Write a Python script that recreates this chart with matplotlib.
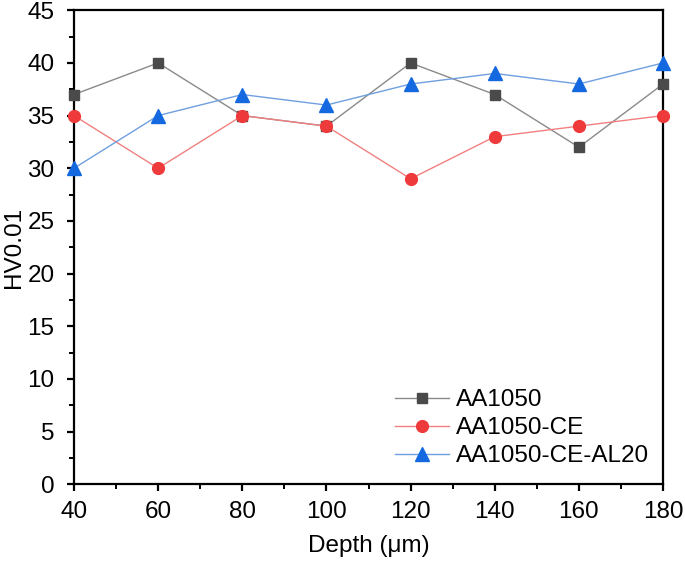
import numpy as np
import matplotlib
matplotlib.use("Agg")
import matplotlib.pyplot as plt
from matplotlib.ticker import MultipleLocator

plt.rcParams['font.family'] = ['Liberation Sans', 'DejaVu Sans']

# data
depth = [40, 60, 80, 100, 120, 140, 160, 180]
aa1050 = [37, 40, 35, 34, 40, 37, 32, 38]
aa1050_ce = [35, 30, 35, 34, 29, 33, 34, 35]
aa1050_ce_al20 = [30, 35, 37, 36, 38, 39, 38, 40]

fig = plt.figure(figsize=(6.85, 5.71), dpi=100)
ax = fig.add_axes([0.108, 0.152, 0.860, 0.830])

ax.plot(depth, aa1050, color='#8a8a8a', lw=1.0, marker='s', ms=7,
        mfc='#4a4a4a', mec='#4a4a4a', label='AA1050', clip_on=False, zorder=3)
ax.plot(depth, aa1050_ce, color='#f08080', lw=1.0, marker='o', ms=8.5,
        mfc='#ee3a3a', mec='#ee3a3a', label='AA1050-CE', clip_on=False, zorder=3)
ax.plot(depth, aa1050_ce_al20, color='#6f9fe0', lw=1.0, marker='^', ms=9.5,
        mfc='#1569e0', mec='#1569e0', label='AA1050-CE-AL20', clip_on=False, zorder=3)

ax.set_xlim(40, 180)
ax.set_ylim(0, 45)
ax.xaxis.set_major_locator(MultipleLocator(20))
ax.xaxis.set_minor_locator(MultipleLocator(10))
ax.yaxis.set_major_locator(MultipleLocator(5))
ax.yaxis.set_minor_locator(MultipleLocator(2.5))

for s in ax.spines.values():
    s.set_linewidth(1.6)
ax.tick_params(which='major', direction='out', length=5, width=1.6, labelsize=17.5,
               top=False, right=False)
ax.tick_params(axis='x', which='major', pad=7)
ax.tick_params(axis='y', which='major', pad=9)
ax.tick_params(which='minor', direction='out', length=3.5, width=1.4,
               top=False, right=False)

ax.set_xlabel('Depth (\u03bcm)', fontsize=17.5, labelpad=9)
ax.set_ylabel('HV0.01', fontsize=17.5, labelpad=2)

ax.legend(loc='lower right', frameon=False, fontsize=17.5, handlelength=2.2,
          handletextpad=0.3, borderaxespad=0.3, labelspacing=0.25,
          bbox_to_anchor=(1.005, 0.0))

fig.savefig('out.png', dpi=100)
